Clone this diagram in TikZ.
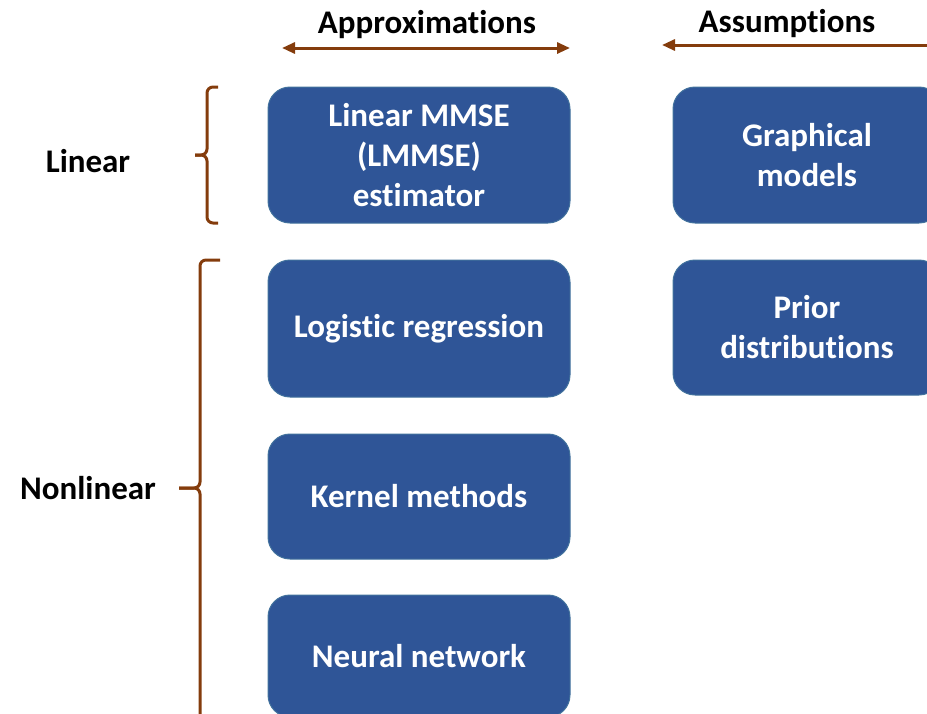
\documentclass[tikz,border=0pt]{standalone}
\usepackage{fontspec}
\setmainfont[RawFeature={-liga;-clig;-calt;-dlig}]{Carlito}
\usepackage{tikz}
\usetikzlibrary{arrows.meta,positioning}

\definecolor{boxblue}{RGB}{47,85,151}
\definecolor{boxedge}{RGB}{65,113,156}
\definecolor{brn}{RGB}{132,60,12}

\begin{document}
\begin{tikzpicture}[x=1pt,y=-1pt,>={Triangle[length=13pt,width=11pt]},
    font=\fontsize{33}{40}\selectfont\bfseries]

    \tikzstyle{est}=[fill=boxblue,draw=boxedge,line width=1pt,text=white,
                     rounded corners=22pt,minimum width=302pt,align=center,inner sep=0pt]
    \tikzstyle{brace}=[draw=brn,line width=3pt,rounded corners=6pt]
    \tikzstyle{lbl}=[anchor=base,inner sep=0pt]

    \useasboundingbox (0,0) rectangle (927,713);
    \clip (0,0) rectangle (927,713);

    % headers
    \node[lbl] (approx) at (427,33) {Approximations};
    \node[lbl] (assum)  at (787,32) {Assumptions};
    \coordinate (apL) at (282,48);
    \coordinate (apR) at (570,48);
    \coordinate (asL) at (662,45);
    \coordinate (asR) at (945,45);
    \draw[<->,brn,line width=3pt] (apL) -- (apR);
    \draw[->,brn,line width=3pt] (asR) -- (asL);

    % estimators
    \node[est, minimum height=136pt] (lmmse) at (419,155) {Linear MMSE\\(LMMSE)\\estimator};
    \node[est, minimum height=137pt, below=36pt of lmmse]  (logreg) {Logistic regression};
    \node[est, minimum height=125pt, below=36pt of logreg] (kernel) {Kernel methods};
    \node[est, minimum height=122pt, below=35pt of kernel] (neural) {Neural network};

    \node[est, minimum height=136pt, minimum width=268pt, right=102pt of lmmse] (graph) {Graphical\\models};
    \node[est, minimum height=135pt, minimum width=268pt, right=102pt of logreg, yshift=1pt] (prior) {Prior\\distributions};

    % braces
    \node[lbl] (lin)    at (88,172) {Linear};
    \node[lbl] (nonlin) at (88,499) {Nonlinear};
    \draw[brace] (218,87) -- (207,87) -- (207,155) -- (195,155);
    \draw[brace] (195,155) -- (207,155) -- (207,223) -- (218,223);
    \draw[brace] (220,260) -- (200,260) -- (200,488) -- (179,488);
    \draw[brace] (179,488) -- (200,488) -- (200,740);
\end{tikzpicture}
\end{document}
